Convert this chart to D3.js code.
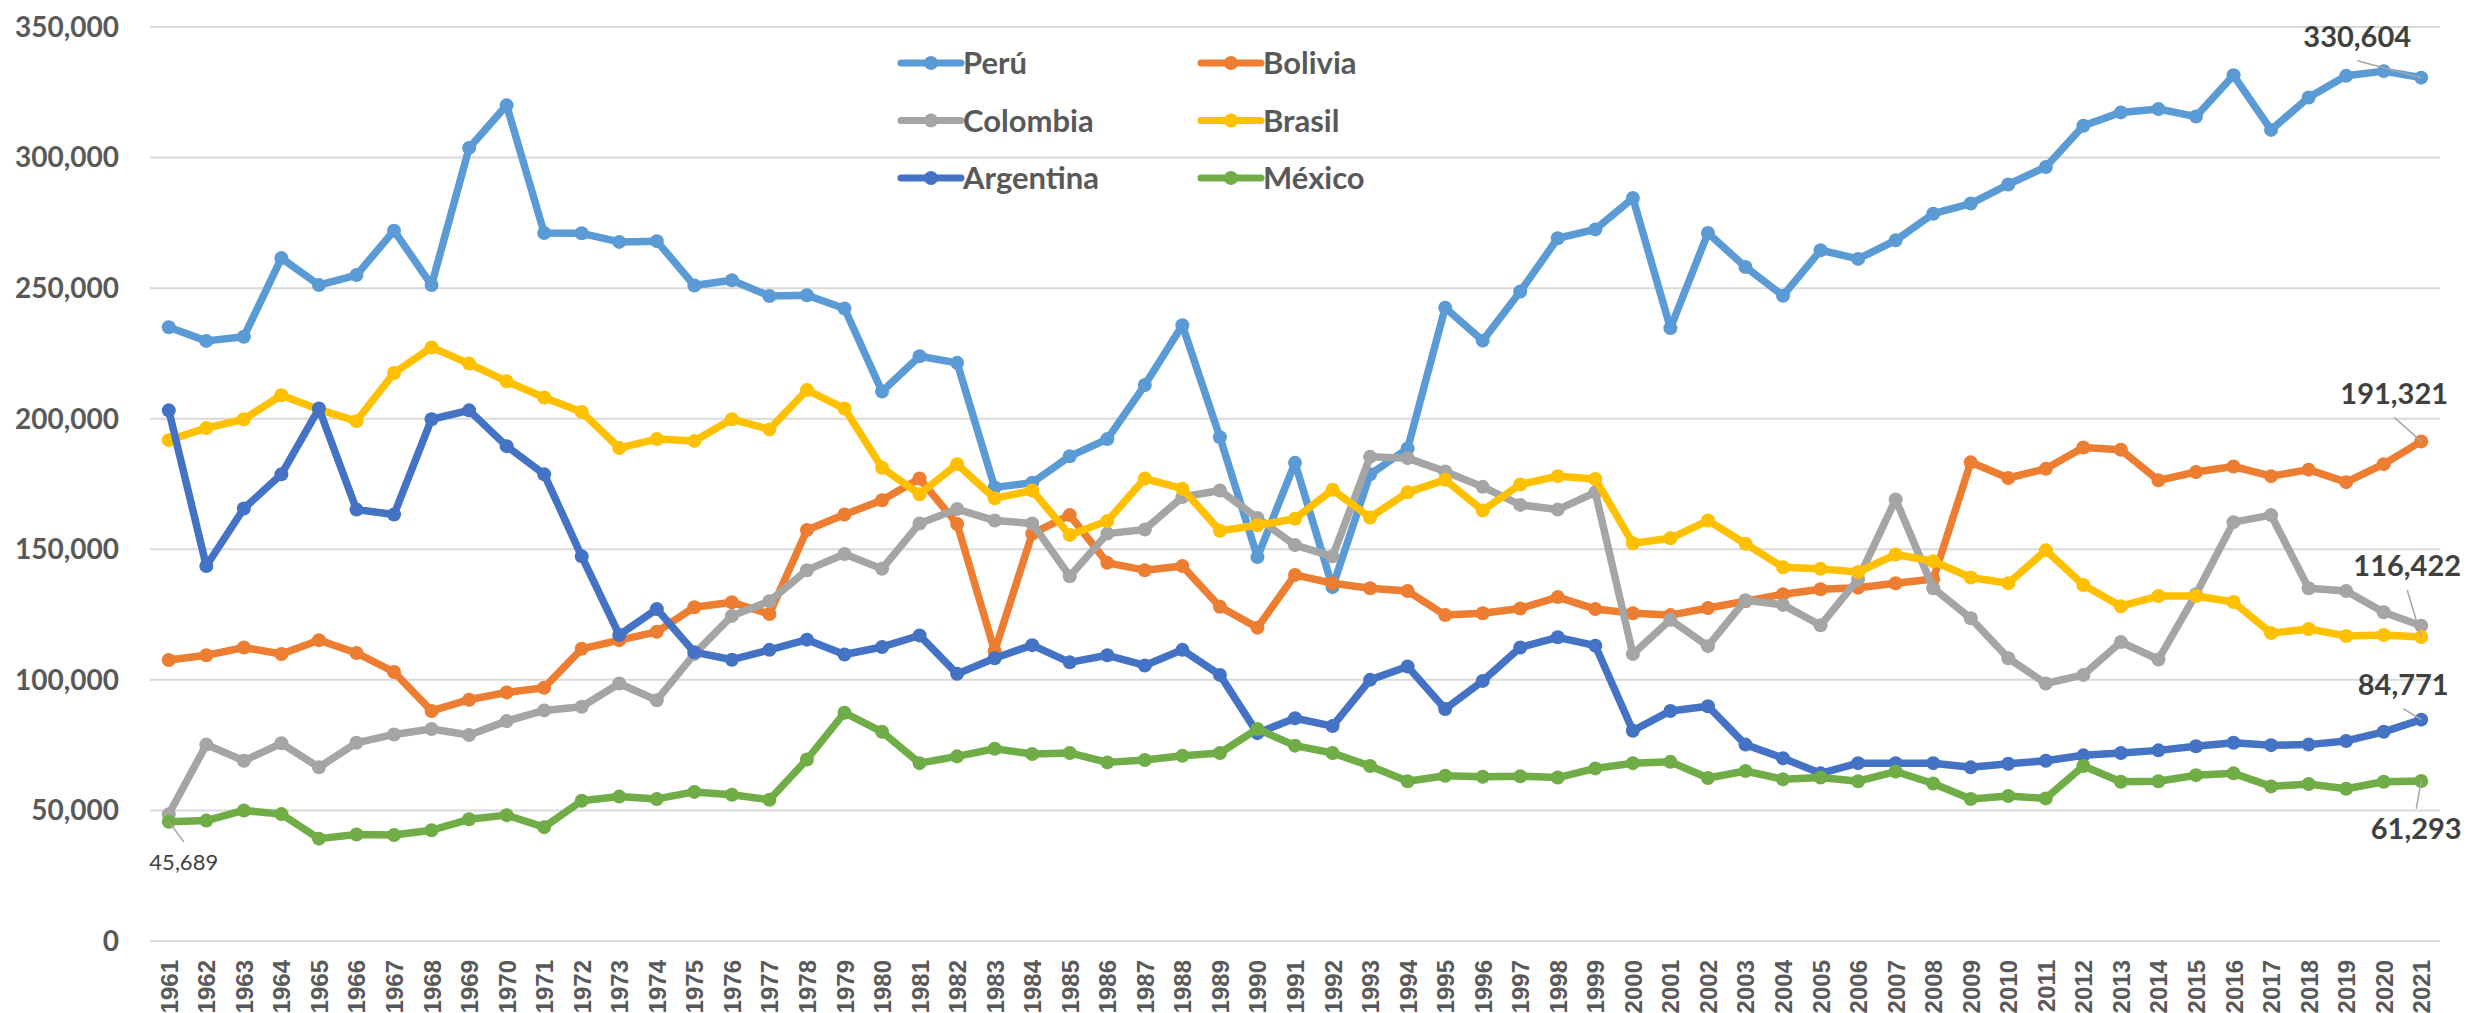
<!DOCTYPE html>
<html>
<head>
<meta charset="utf-8">
<script src="https://cdn.jsdelivr.net/npm/d3@7"></script>
<style>
  body { margin: 0; background: #fff; }
  svg { display: block; font-family: Lato, "Open Sans", sans-serif; }
</style>
</head>
<body>
<svg id="chart" width="2476" height="1013"></svg>
<script>
// data
var years = d3.range(1961, 2022);
var yTicks = [0, 50000, 100000, 150000, 200000, 250000, 300000, 350000];
var seriesNames = ["Perú", "Bolivia", "Colombia", "Brasil", "Argentina", "México"];
var seriesColors = ["#5B9BD5", "#ED7D31", "#A5A5A5", "#FFC000", "#4472C4", "#70AD47"];

var peru = [235000, 229800, 231400, 261500, 251200, 255000, 272000, 251200, 303700, 320000,
  271100, 271000, 267700, 268000, 251000, 253000, 247000, 247300, 242200, 210400,
  223900, 221400, 173700, 175500, 185600, 192200, 212900, 235800, 192900, 147000,
  183100, 135500, 178700, 188600, 242500, 229900, 248700, 269100, 272500, 284500,
  234700, 271100, 258100, 247100, 264500, 261200, 268300, 278500, 282400, 289700,
  296400, 312200, 317300, 318600, 315700, 331500, 310600, 323000, 331300, 333100, 330604];
var bolivia = [107600, 109400, 112400, 109900, 115200, 110300, 103000, 88100, 92400, 95200,
  97000, 111900, 115200, 118400, 127800, 129700, 125200, 157400, 163300, 168800,
  177100, 159700, 111000, 156000, 163100, 144800, 142000, 143600, 128000, 120000,
  140200, 137000, 135100, 134000, 124800, 125500, 127300, 131700, 127100, 125500,
  124800, 127500, 130100, 132800, 134700, 135300, 137000, 138600, 183300, 177300,
  180800, 189000, 188100, 176400, 179600, 181700, 178000, 180500, 175700, 182600, 191321];
var colombia = [48500, 75200, 69000, 75700, 66500, 75900, 79100, 81200, 78900, 84200,
  88300, 89700, 98600, 92200, 109900, 124500, 130100, 142000, 148200, 142500,
  159900, 165400, 161000, 159900, 139700, 156000, 157600, 170000, 172500, 162000,
  151600, 147300, 185400, 184900, 179800, 173900, 167000, 165200, 171800, 109900,
  123000, 112900, 130500, 128700, 120900, 138600, 169100, 135100, 123600, 108300,
  98600, 101900, 114500, 107800, 132800, 160400, 163100, 135100, 134000, 125900, 120700];
var brasil = [191800, 196400, 199800, 209000, 203500, 199100, 217500, 227300, 221100, 214300,
  208100, 202600, 188800, 192200, 191500, 199800, 195900, 211000, 203900, 181200,
  171100, 182600, 169500, 172500, 155500, 160800, 177100, 173200, 157100, 159200,
  161700, 172800, 162200, 171800, 176600, 164900, 174800, 178000, 176900, 152300,
  154200, 161000, 152100, 143100, 142500, 141300, 148000, 145400, 139200, 137000,
  149600, 136300, 128200, 132100, 132100, 129800, 117900, 119500, 116800, 117200, 116422];
var argentina = [203200, 143600, 165600, 178700, 203900, 165200, 163300, 199800, 203200, 189500,
  178700, 147300, 117200, 127100, 110600, 107700, 111500, 115400, 109700, 112600,
  117000, 102300, 108300, 113300, 106700, 109400, 105500, 111500, 101900, 79600,
  85300, 82300, 100000, 105100, 88800, 99600, 112400, 116300, 113100, 80500,
  88100, 89900, 75200, 70000, 64200, 68100, 68100, 68100, 66500, 67900,
  69000, 71100, 72000, 73000, 74600, 75900, 75000, 75200, 76600, 80100, 84771];
var mexico = [45689, 46100, 50000, 48600, 39200, 40800, 40600, 42400, 46600, 48200,
  43600, 53700, 55300, 54400, 57100, 56000, 54100, 69500, 87400, 80100,
  68100, 70700, 73600, 71600, 72000, 68400, 69300, 70900, 72000, 81200,
  74800, 72000, 67000, 61200, 63300, 62900, 63100, 62600, 66100, 68100,
  68600, 62400, 65100, 61900, 62600, 61200, 64900, 60300, 54400, 55500,
  54600, 67000, 61000, 61200, 63500, 64200, 59200, 60100, 58300, 61000, 61293];

var seriesValues = [peru, bolivia, colombia, brasil, argentina, mexico];

// which points get a value label: [series index, year]
var labelled = [[0, 2021], [1, 2021], [3, 2021], [4, 2021], [5, 2021], [5, 1961]];

var svg = d3.select("#chart");
var margin = {left: 150, right: 36, top: 27, bottom: 72};
var width = +svg.attr("width"), height = +svg.attr("height");

var x = d3.scaleBand()
    .domain(years)
    .range([margin.left, width - margin.right]);
var y = d3.scaleLinear()
    .domain([0, 350000])
    .range([height - margin.bottom, margin.top]);
var cx = function(yr) { return x(yr) + x.bandwidth() / 2; };

// gridlines
svg.append("g")
    .selectAll("line")
    .data(yTicks)
    .join("line")
    .attr("x1", margin.left)
    .attr("x2", width - margin.right)
    .attr("y1", d => y(d))
    .attr("y2", d => y(d))
    .attr("stroke", "#D9D9D9")
    .attr("stroke-width", 2);

// y axis labels
svg.append("g")
    .selectAll("text")
    .data(yTicks)
    .join("text")
    .attr("x", 119)
    .attr("y", d => y(d))
    .attr("dy", "0.35em")
    .attr("text-anchor", "end")
    .attr("font-size", 28)
    .attr("font-weight", "bold")
    .attr("fill", "#595959")
    .text(d3.format(","));

// x axis labels, rotated
svg.append("g")
    .selectAll("text")
    .data(years)
    .join("text")
    .attr("transform", d => "translate(" + (cx(d) + 9) + ",960) rotate(-90)")
    .attr("text-anchor", "end")
    .attr("font-family", "'Liberation Sans', Arial, sans-serif")
    .attr("font-size", 24)
    .attr("font-weight", "bold")
    .attr("fill", "#595959")
    .text(d => d);

// lines
var line = d3.line()
    .x((d, i) => cx(years[i]))
    .y(d => y(d));

var groups = svg.append("g")
    .selectAll("g")
    .data(seriesValues)
    .join("g");

groups.append("path")
    .attr("d", d => line(d))
    .attr("fill", "none")
    .attr("stroke", (d, i) => seriesColors[i])
    .attr("stroke-width", 7.5)
    .attr("stroke-linejoin", "round");

groups.each(function(vals, si) {
    d3.select(this).selectAll("circle")
        .data(vals)
        .join("circle")
        .attr("cx", (d, i) => cx(years[i]))
        .attr("cy", d => y(d))
        .attr("r", 7)
        .attr("fill", seriesColors[si]);
});

// legend
var legend = svg.append("g")
    .selectAll("g")
    .data(seriesNames)
    .join("g")
    .attr("transform", (d, i) => "translate(" + (i % 2 ? 1201 : 901) + "," + (63 + Math.floor(i / 2) * 57.5) + ")");
legend.append("line")
    .attr("x1", 0).attr("x2", 60)
    .attr("stroke", (d, i) => seriesColors[i])
    .attr("stroke-width", 7)
    .attr("stroke-linecap", "round");
legend.append("circle")
    .attr("cx", 30).attr("r", 7)
    .attr("fill", (d, i) => seriesColors[i]);
legend.append("text")
    .attr("x", 62)
    .attr("dy", "0.36em")
    .attr("font-size", 31)
    .attr("font-weight", "bold")
    .attr("fill", "#595959")
    .text(d => d);

// value labels with leader lines
var labelOffsets = [[-64, -41], [-27, -48], [-14, -71], [-18, -35], [-5, 48], [15, 40]];
var labels = svg.append("g")
    .selectAll("g")
    .data(labelled)
    .join("g");
labels.each(function(d, k) {
    var si = d[0], yr = d[1];
    var v = seriesValues[si][years.indexOf(yr)];
    var px = cx(yr), py = y(v);
    var off = labelOffsets[k];
    var small = yr === 1961;
    var g = d3.select(this);
    g.append("line")
        .attr("x1", px).attr("y1", py)
        .attr("x2", px + off[0]).attr("y2", py + off[1] + (off[1] < 0 ? 24 : -20))
        .attr("stroke", "#A6A6A6")
        .attr("stroke-width", 1.5);
    g.append("text")
        .attr("x", px + off[0])
        .attr("y", py + off[1])
        .attr("dy", "0.36em")
        .attr("text-anchor", "middle")
        .attr("font-size", small ? 22 : 29)
        .attr("font-weight", small ? "normal" : "bold")
        .attr("fill", "#404040")
        .text(d3.format(",")(v));
});
</script>
</body>
</html>
